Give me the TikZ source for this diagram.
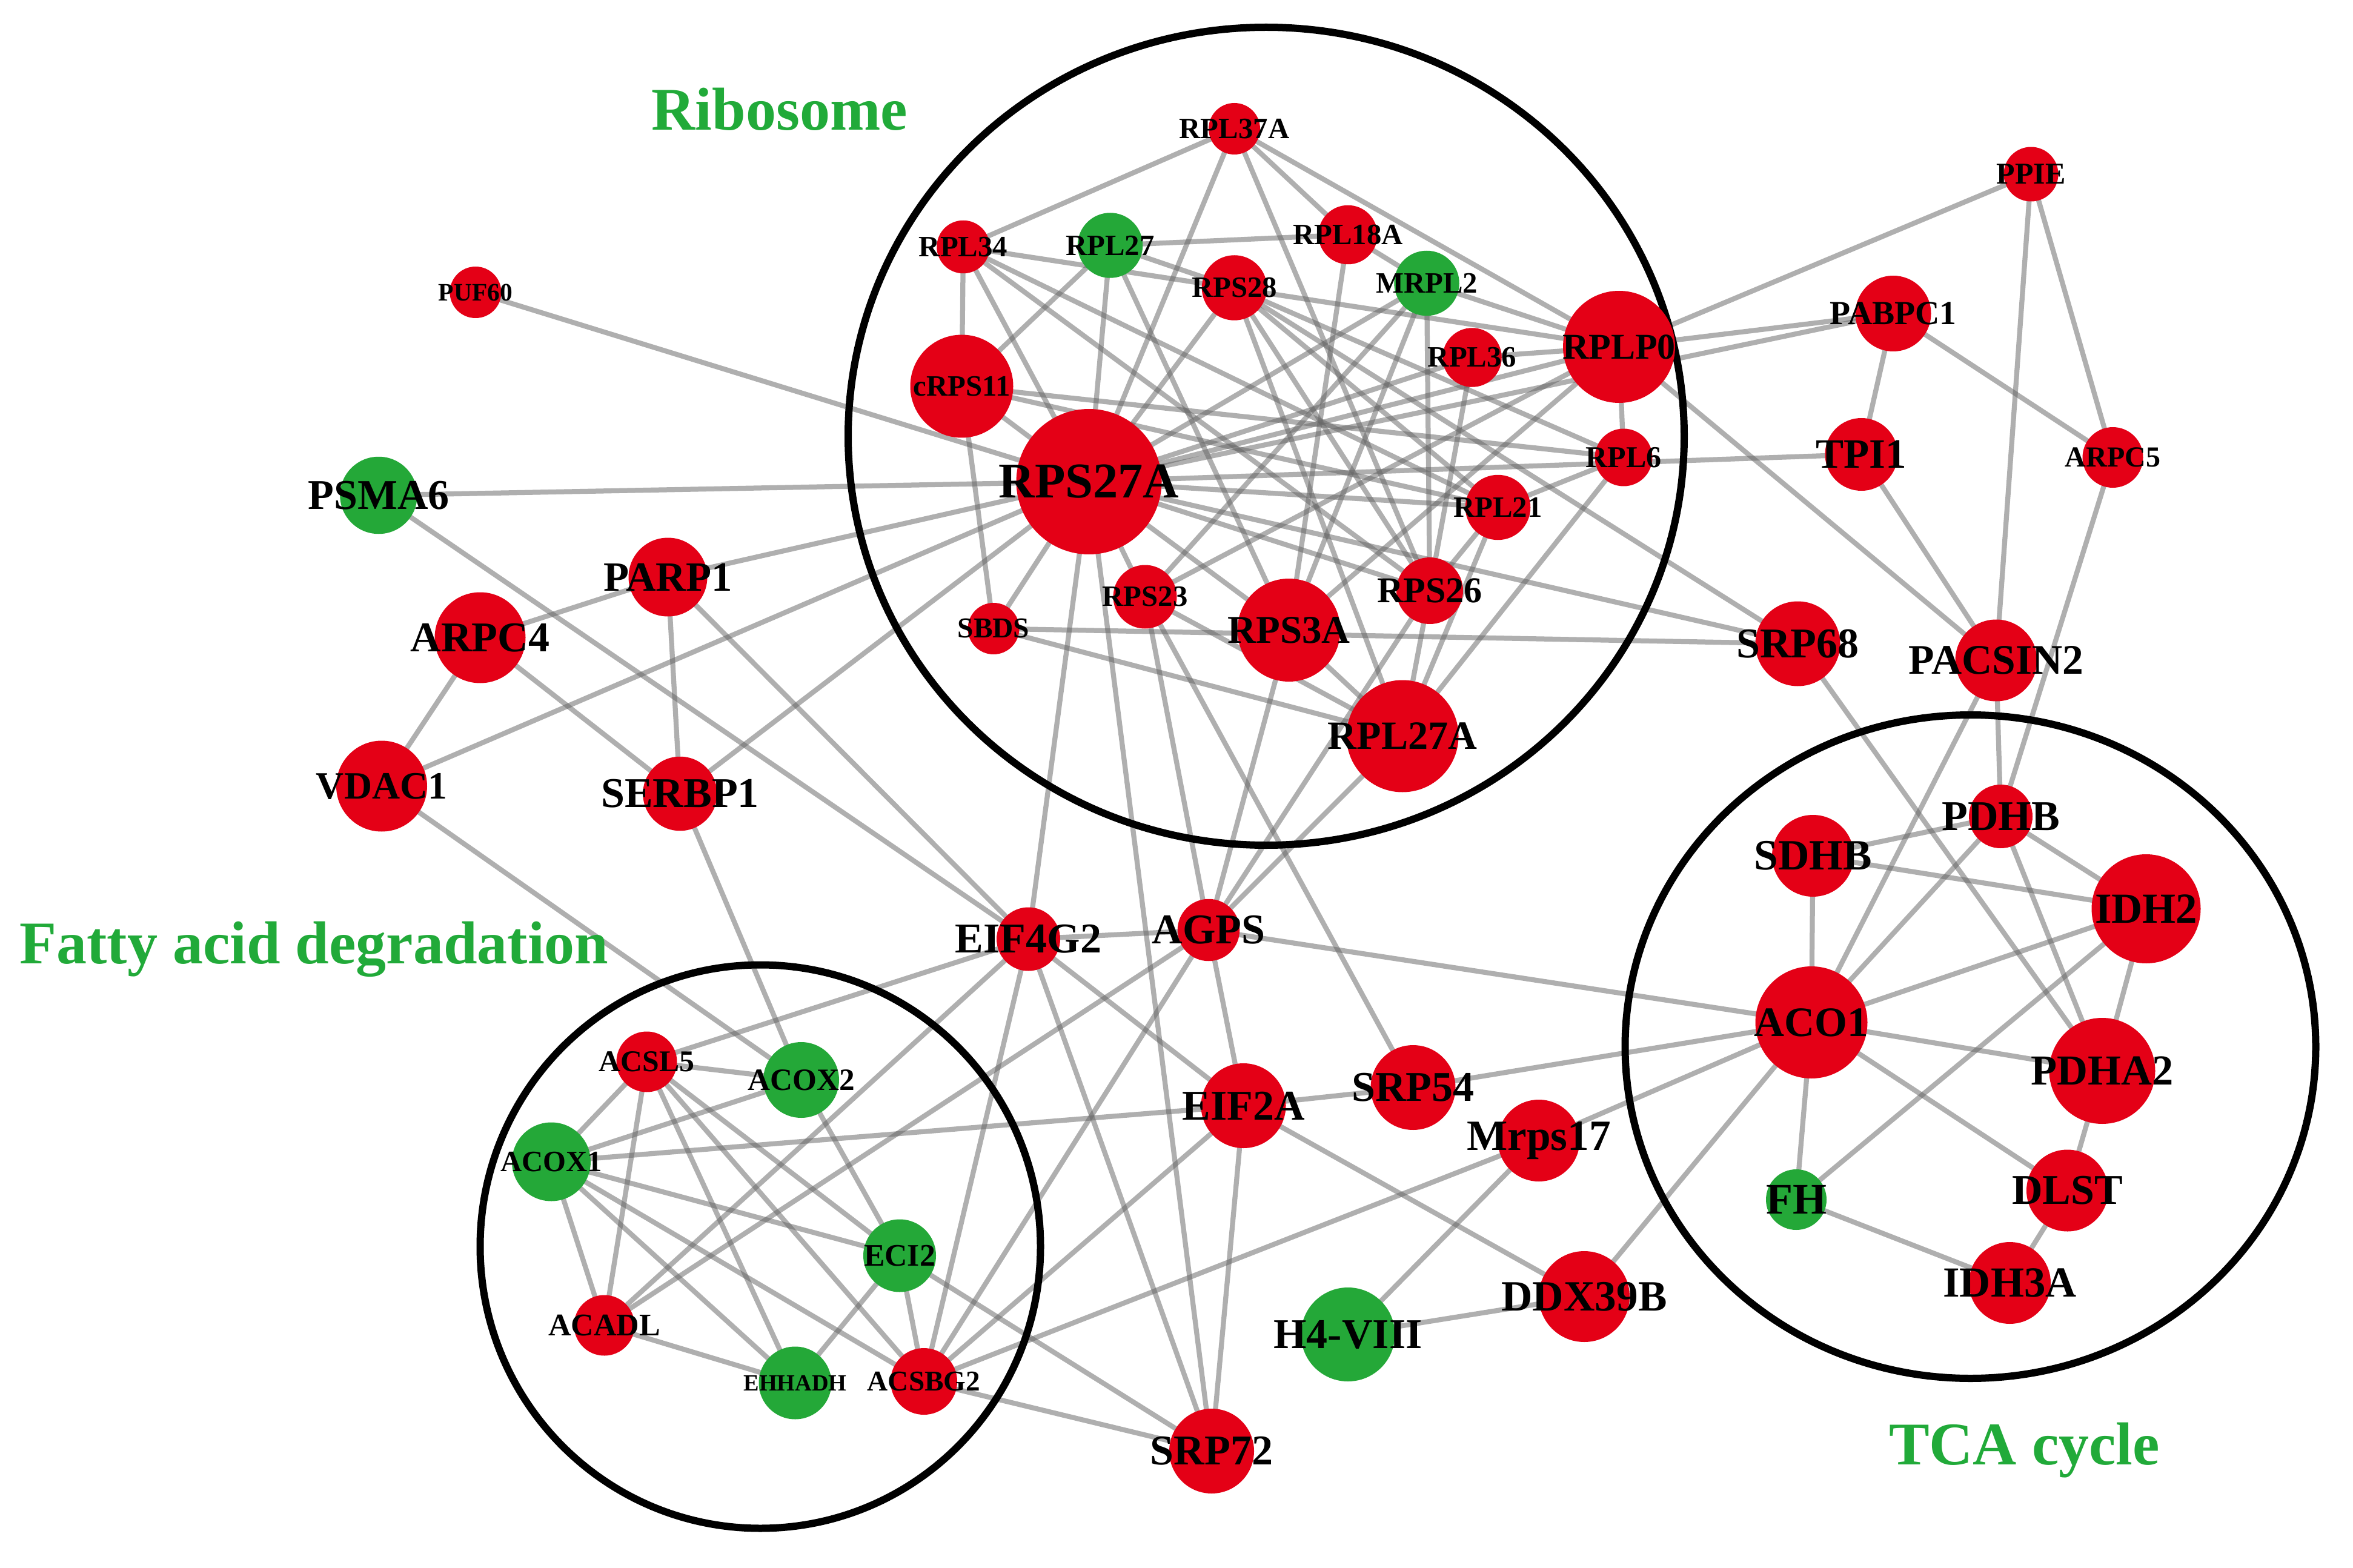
\documentclass[tikz,border=0pt]{standalone}
\usepackage{fontspec}
\setmainfont{Liberation Serif}
\usetikzlibrary{backgrounds}
\definecolor{nred}{RGB}{228,0,22}
\definecolor{ngreen}{RGB}{36,168,56}
\definecolor{tgreen}{RGB}{33,170,57}
\tikzset{
  edge/.style={draw=black!60, opacity=0.52, line width=3.3pt},
  ring/.style={draw=black, line width=4.8pt},
  gtitle/.style={text=tgreen, font=\bfseries\fontsize{40}{40}\selectfont, inner sep=0pt},
}
\newcommand{\gnode}[7]{%
  \node[circle, fill=#7, minimum size=#4*2pt, inner sep=0pt] (#1) at (#2,#3) {};
  \node[font=\bfseries\fontsize{#5}{#5}\selectfont, inner sep=0pt, text=black] (#1-l) at (#2,#3) {#6};
}
\begin{document}
\begin{tikzpicture}[x=1pt,y=-1pt]
\useasboundingbox (0,0) rectangle (1553.6,1035.2);
% rings
\draw[ring] (836,288) ellipse [x radius=276, y radius=270];
\draw[ring] (502,823) ellipse [x radius=185, y radius=186];
\draw[ring] (1301,691) ellipse [x radius=228, y radius=219];
% titles
\node[gtitle, anchor=base west] (t-ribo) at (430,86) {Ribosome};
\node[gtitle, anchor=base east] (t-fatty) at (402,636) {Fatty acid degradation};
\node[gtitle, anchor=base west] (t-tca) at (1247,967) {TCA cycle};
% ribosome nodes
\gnode{RPL37A}{815}{85}{17}{19.5}{RPL37A}{nred}
\gnode{RPL34}{636}{163}{17.5}{19.5}{RPL34}{nred}
\gnode{RPL27}{733}{162}{21.5}{19.5}{RPL27}{ngreen}
\gnode{RPL18A}{890}{155}{19.5}{19.5}{RPL18A}{nred}
\gnode{RPS28}{815}{190}{21.5}{19.5}{RPS28}{nred}
\gnode{MRPL2}{942}{187}{21.5}{19.5}{MRPL2}{ngreen}
\gnode{cRPS11}{635}{255}{34}{19.5}{cRPS11}{nred}
\gnode{RPL36}{972}{236}{19.5}{19.5}{RPL36}{nred}
\gnode{RPLP0}{1069}{229}{37}{24}{RPLP0}{nred}
\gnode{RPS27A}{719}{318}{48}{33}{RPS27A}{nred}
\gnode{RPL6}{1072}{302}{19}{20}{RPL6}{nred}
\gnode{RPL21}{989}{335}{21.5}{19.5}{RPL21}{nred}
\gnode{RPS23}{756}{394}{21}{19.5}{RPS23}{nred}
\gnode{SBDS}{656}{415}{17}{19}{SBDS}{nred}
\gnode{RPS3A}{851}{416}{34}{26}{RPS3A}{nred}
\gnode{RPS26}{944}{390}{22}{24}{RPS26}{nred}
\gnode{RPL27A}{926}{486}{37}{26.5}{RPL27A}{nred}
% left / middle nodes
\gnode{PUF60}{314}{193}{17}{16.6}{PUF60}{nred}
\gnode{PSMA6}{250}{327}{25.5}{28}{PSMA6}{ngreen}
\gnode{PARP1}{441}{381}{26}{27.5}{PARP1}{nred}
\gnode{ARPC4}{317}{421}{30}{28}{ARPC4}{nred}
\gnode{VDAC1}{252}{519}{30}{25.5}{VDAC1}{nred}
\gnode{SERBP1}{449}{524}{24.5}{28}{SERBP1}{nred}
\gnode{EIF4G2}{679}{620}{21}{28}{EIF4G2}{nred}
\gnode{AGPS}{798}{614}{20.5}{28}{AGPS}{nred}
\gnode{EIF2A}{821}{730}{28}{28}{EIF2A}{nred}
\gnode{SRP54}{933}{718}{28}{28}{SRP54}{nred}
\gnode{Mrps17}{1016}{753}{27}{28.5}{Mrps17}{nred}
\gnode{H4}{890}{881}{31}{28}{H4-VIII}{ngreen}
\gnode{DDX39B}{1046}{856}{30}{28.5}{DDX39B}{nred}
\gnode{SRP72}{800}{958}{28}{28}{SRP72}{nred}
% right nodes
\gnode{PPIE}{1341}{115}{18}{20}{PPIE}{nred}
\gnode{PABPC1}{1250}{207}{25}{22.3}{PABPC1}{nred}
\gnode{TPI1}{1229}{300}{24}{27.6}{TPI1}{nred}
\gnode{ARPC5}{1395}{302}{20}{19.2}{ARPC5}{nred}
\gnode{SRP68}{1187}{425}{28}{28}{SRP68}{nred}
\gnode{PACSIN2}{1318}{436}{27}{27.8}{PACSIN2}{nred}
% fatty acid nodes
\gnode{ACSL5}{427}{701}{20}{19.9}{ACSL5}{nred}
\gnode{ACOX2}{529}{713}{25}{20.5}{ACOX2}{ngreen}
\gnode{ACOX1}{364}{767}{26}{19.5}{ACOX1}{ngreen}
\gnode{ECI2}{594}{829}{24}{20.7}{ECI2}{ngreen}
\gnode{ACADL}{399}{875}{20}{20.8}{ACADL}{nred}
\gnode{EHHADH}{525}{913}{24}{15.3}{EHHADH}{ngreen}
\gnode{ACSBG2}{610}{912}{22}{18.9}{ACSBG2}{nred}
% TCA nodes
\gnode{PDHB}{1321}{539}{21}{28}{PDHB}{nred}
\gnode{SDHB}{1197}{565}{27}{28.5}{SDHB}{nred}
\gnode{IDH2}{1417}{600}{36}{28.3}{IDH2}{nred}
\gnode{ACO1}{1196}{675}{37}{27.7}{ACO1}{nred}
\gnode{PDHA2}{1388}{707}{35}{28.2}{PDHA2}{nred}
\gnode{DLST}{1365}{786}{27}{28}{DLST}{nred}
\gnode{FH}{1186}{792}{20}{28.8}{FH}{ngreen}
\gnode{IDH3A}{1327}{847}{27}{28.3}{IDH3A}{nred}
% edges
\begin{pgfonlayer}{background}
\fill[white] (0,0) rectangle (1553.6,1035.2);
\foreach \a/\b in {
 PUF60/RPS27A, PSMA6/RPS27A, PSMA6/EIF4G2, PARP1/RPS27A, ARPC4/PARP1, ARPC4/VDAC1,
 ARPC4/SERBP1, VDAC1/RPS27A, VDAC1/ACOX2, PARP1/SERBP1, PARP1/EIF4G2, SERBP1/RPS27A,
 SERBP1/ACOX2, EIF4G2/RPS27A, EIF4G2/AGPS, EIF4G2/ACSL5, EIF4G2/ACADL, EIF4G2/ACSBG2,
 EIF4G2/EIF2A, EIF4G2/SRP72, AGPS/ACO1, AGPS/EIF2A, AGPS/ACADL, AGPS/ACSBG2, AGPS/RPS23,
 AGPS/RPS3A, AGPS/RPS26, AGPS/RPL27A, EIF2A/SRP54, EIF2A/DDX39B, EIF2A/SRP72, EIF2A/ACOX1,
 EIF2A/ACSBG2, SRP54/ACO1, SRP54/RPS23, Mrps17/ACO1, Mrps17/ACSBG2, Mrps17/H4, DDX39B/ACO1,
 H4/DDX39B, SRP72/RPS27A, SRP72/ACSBG2, SRP72/ECI2,
 ACSL5/ACOX2, ACSL5/ACOX1, ACSL5/ACADL, ACSL5/EHHADH, ACSL5/ACSBG2, ACSL5/ECI2,
 ACOX1/ACOX2, ACOX1/ACADL, ACOX1/ECI2, ACOX1/EHHADH, ACOX1/ACSBG2, ACOX2/ECI2,
 ACADL/EHHADH, EHHADH/ECI2, ECI2/ACSBG2,
 PPIE/RPLP0, PPIE/PACSIN2, PPIE/ARPC5, PABPC1/RPLP0, PABPC1/RPS27A, PABPC1/TPI1,
 PABPC1/ARPC5, RPLP0/PACSIN2, RPS27A/TPI1, TPI1/PACSIN2, ARPC5/PDHB, PACSIN2/PDHB,
 PACSIN2/ACO1, SRP68/PDHA2, RPS27A/SRP68, SBDS/SRP68, RPS28/SRP68,
 PDHB/SDHB, PDHB/IDH2, PDHB/ACO1, PDHB/PDHA2, SDHB/IDH2, SDHB/ACO1, ACO1/IDH2,
 ACO1/PDHA2, ACO1/DLST, ACO1/FH, FH/IDH2, FH/IDH3A, IDH2/PDHA2, PDHA2/DLST, DLST/IDH3A,
 RPL37A/RPL34, RPL37A/RPS27A, RPL37A/RPL18A, RPL37A/RPS26, RPL37A/RPLP0,
 RPL34/cRPS11, RPL34/RPS27A, RPL34/RPLP0, RPL34/RPS26, RPL34/RPL21,
 RPL27/RPL18A, RPL27/RPS28, RPL27/cRPS11, RPL27/RPS27A, RPL27/RPS3A,
 RPS28/RPS27A, RPS28/RPS26, RPS28/RPL21, RPS28/RPL27A, RPS28/RPL6,
 MRPL2/RPL18A, MRPL2/RPLP0, MRPL2/RPS26, MRPL2/RPS27A, MRPL2/RPS3A, MRPL2/RPS23,
 RPL18A/RPS3A, cRPS11/RPS27A, cRPS11/SBDS, cRPS11/RPL6, cRPS11/RPL21, RPL36/RPLP0,
 RPL36/RPS27A, RPL36/RPS26, RPLP0/RPL6, RPLP0/RPS27A, RPLP0/RPS23, RPLP0/RPS3A,
 RPL6/RPL21, RPL6/RPL27A, RPL21/RPS27A, RPL21/RPS26, RPL21/RPL27A, RPS26/RPS27A,
 RPS26/RPL27A, RPS3A/RPS27A, RPS3A/RPL27A, RPS23/RPS27A, RPS23/RPL27A, SBDS/RPS27A,
 SBDS/RPL27A}
 \draw[edge] (\a.center) -- (\b.center);
\end{pgfonlayer}
\end{tikzpicture}
\end{document}
